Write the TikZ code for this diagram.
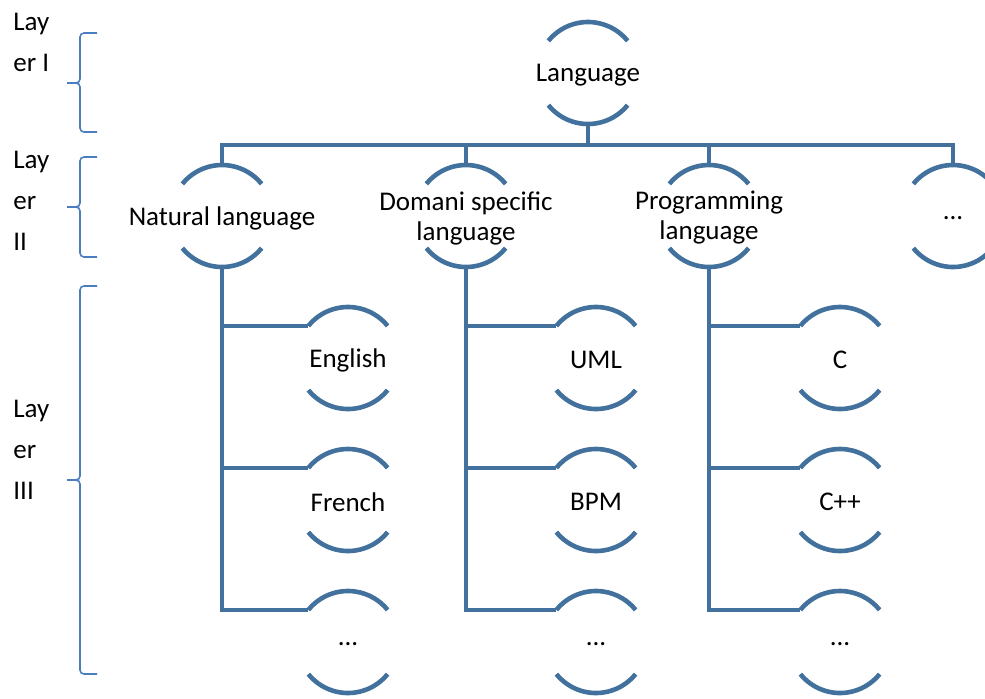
\documentclass[tikz,border=0pt]{standalone}
\usepackage{fontspec}
\setmainfont{Carlito}
\usepackage{xcolor}
\definecolor{treeblue}{RGB}{65,113,156}
\definecolor{braceblue}{RGB}{74,126,193}

\begin{document}
\begin{tikzpicture}[
        x=0.5pt, y=-0.5pt,
        item/.style={align=center, inner sep=0pt, yshift=-1pt, font=\fontsize{13.5}{15}\selectfont},
        layertext/.style={align=left, anchor=north west, inner sep=0pt, font=\fontsize{13.5}{20.5}\selectfont},
        link/.style={draw=treeblue, line width=2.3pt},
        itemarc/.style={draw=treeblue, line width=2.3pt},
        brace/.style={draw=braceblue, line width=0.8pt, rounded corners=2pt}
    ]
    \useasboundingbox (0,0) rectangle (985,698);

    % Layer I
    \node (Lang) [item] at (588,73) {Language};

    % Layer II
    \node (Nat) [item] at (222,216) {Natural language};
    \node (Dom) [item] at (466,216) {Domani specific\\language};
    \node (Prog) [item] at (709,216) {Programming\\language};
    \node (More) [item] at (953,216) {...};

    % Layer III
    \node (Eng) [item] at (348,358) {English};
    \node (Fre) [item] at (348,500) {French};
    \node (NatMore) [item] at (348,642) {...};
    \node (Uml) [item] at (596,358) {UML};
    \node (Bpm) [item] at (596,500) {BPM};
    \node (DomMore) [item] at (596,642) {...};
    \node (C) [item] at (840,358) {C};
    \node (Cpp) [item] at (840,500) {C++};
    \node (ProgMore) [item] at (840,642) {...};

    % arcs above and below every item
    \foreach \n in {Lang, Nat, Dom, Prog, More, Eng, Fre, NatMore, Uml, Bpm, DomMore, C, Cpp, ProgMore} {
        \draw[itemarc] ([shift={(141:25.5pt)},yshift=1pt]\n.center) arc[start angle=141, end angle=39, radius=25.5pt];
        \draw[itemarc] ([shift={(219:25.5pt)},yshift=1pt]\n.center) arc[start angle=219, end angle=321, radius=25.5pt];
    }

    % links
    \foreach \n in {Nat, Dom, Prog, More}
        \draw[link] ([yshift=-24.5pt]Lang.center) -- ([yshift=-35pt]Lang.center) -| ([yshift=26.5pt]\n.center);
    \foreach \p/\c in {Nat/Eng, Nat/Fre, Nat/NatMore, Dom/Uml, Dom/Bpm, Dom/DomMore, Prog/C, Prog/Cpp, Prog/ProgMore}
        \draw[link] ([yshift=-24.5pt]\p.center) |- ([shift={(141:25.5pt)},yshift=1pt]\c.center);

    % layer braces
    \foreach \t/\m/\b in {33/83/132, 157/207/257, 286/480/674} {
        \draw[brace] (97,\t) -- (80,\t) -- (80,\m) -- (67,\m);
        \draw[brace] (67,\m) -- (80,\m) -- (80,\b) -- (97,\b);
    }

    % layer names
    \node (LayI) [layertext] at (13,13) {Lay\\er I};
    \node (LayII) [layertext] at (13,151) {Lay\\er\\II};
    \node (LayIII) [layertext] at (13,400) {Lay\\er\\III};
\end{tikzpicture}
\end{document}
